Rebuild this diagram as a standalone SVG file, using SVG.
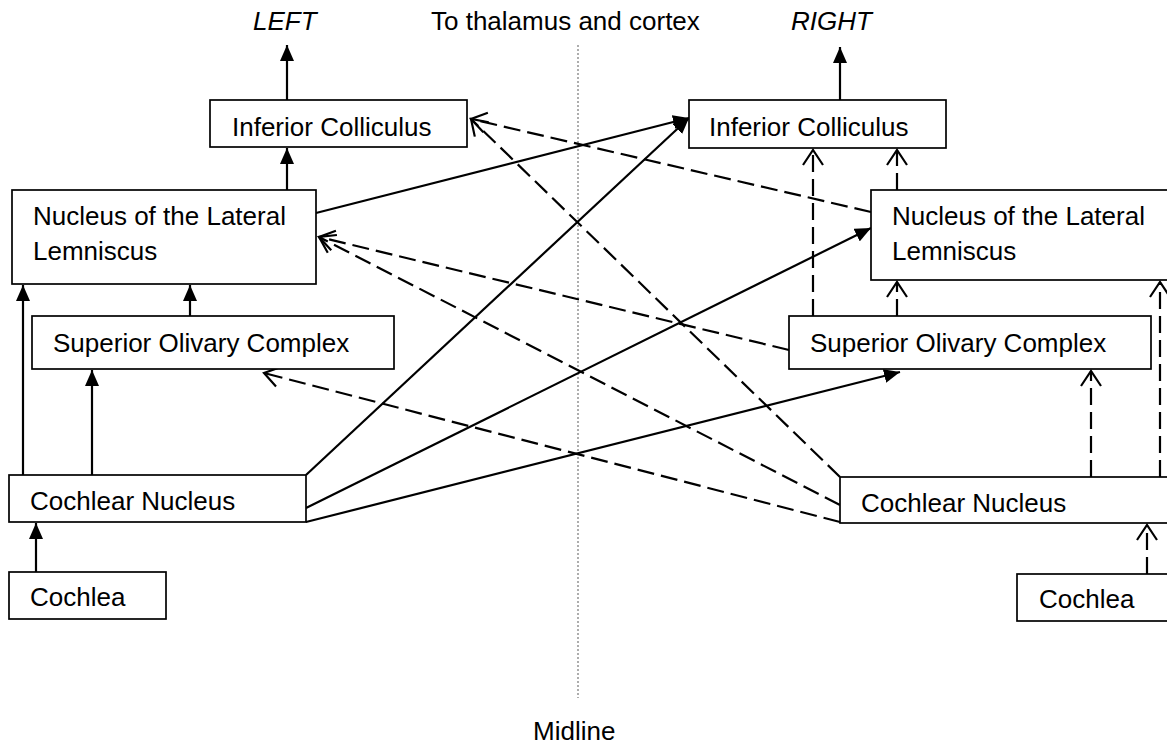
<svg xmlns="http://www.w3.org/2000/svg" width="1167" height="745" viewBox="0 0 1167 745">
<style>
  .box { fill: #ffffff; stroke: #000000; stroke-width: 1.7; }
  .lbl { font-family: "Liberation Sans", Arial, sans-serif; font-size: 26px; fill: #000000; }
  .ital { font-style: italic; }
  .solid { stroke: #000000; stroke-width: 2.2; fill: none; marker-end: url(#fill-arrow); }
  .dash { stroke: #000000; stroke-width: 2.2; fill: none; stroke-dasharray: 17 7; marker-end: url(#open-arrow); }
  .mid { stroke: #777777; stroke-width: 1.2; stroke-dasharray: 2 2; fill: none; }
</style>
<defs>
  <marker id="fill-arrow" markerUnits="userSpaceOnUse" markerWidth="16" markerHeight="14" viewBox="0 0 16 14" refX="16" refY="7" orient="auto">
    <path d="M0,0 L16,7 L0,14 Z" fill="#000000"/>
  </marker>
  <marker id="open-arrow" markerUnits="userSpaceOnUse" markerWidth="20" markerHeight="24" viewBox="-2 -2 20 24" refX="15" refY="10" orient="auto">
    <path d="M0,0 L15,10 L0,20" fill="none" stroke="#000000" stroke-width="2.2"/>
  </marker>
</defs>
<rect x="0" y="0" width="1167" height="745" fill="#ffffff"/>

<g id="labels">
  <text class="lbl ital" x="253" y="30">LEFT</text>
  <text class="lbl" x="431" y="30">To thalamus and cortex</text>
  <text class="lbl ital" x="791" y="30">RIGHT</text>
  <text class="lbl" x="533" y="740">Midline</text>
</g>

<g id="midline">
  <line class="mid" x1="578" y1="45" x2="578" y2="698"/>
</g>

<g id="connectors">
  <line class="solid" x1="287" y1="100" x2="287" y2="45"/>
  <line class="solid" x1="287" y1="190" x2="287" y2="148"/>
  <line class="solid" x1="190" y1="316" x2="190" y2="285"/>
  <line class="solid" x1="23" y1="475" x2="23" y2="285"/>
  <line class="solid" x1="92" y1="475" x2="92" y2="370"/>
  <line class="solid" x1="36" y1="572" x2="36" y2="523"/>
  <line class="solid" x1="316" y1="213" x2="689" y2="118"/>
  <line class="solid" x1="306" y1="475" x2="689" y2="118"/>
  <line class="solid" x1="306" y1="508" x2="871" y2="228"/>
  <line class="solid" x1="306" y1="522" x2="900" y2="372"/>
  <line class="solid" x1="840" y1="100" x2="840" y2="47"/>
  <line class="dash" x1="871" y1="212" x2="471" y2="119"/>
  <line class="dash" x1="840" y1="477" x2="471" y2="119"/>
  <line class="dash" x1="789" y1="350" x2="319" y2="237"/>
  <line class="dash" x1="840" y1="505" x2="319" y2="237"/>
  <line class="dash" x1="840" y1="522" x2="264" y2="373"/>
  <line class="dash" x1="813" y1="316" x2="813" y2="150"/>
  <line class="dash" x1="897" y1="190" x2="897" y2="150"/>
  <line class="dash" x1="897" y1="316" x2="897" y2="282"/>
  <line class="dash" x1="1091" y1="477" x2="1091" y2="371"/>
  <line class="dash" x1="1160" y1="477" x2="1160" y2="282"/>
  <line class="dash" x1="1147" y1="574" x2="1147" y2="525"/>
</g>

<g id="left-ic">
  <rect class="box" x="210" y="100" width="257" height="47"/>
  <text class="lbl" x="232" y="136">Inferior Colliculus</text>
</g>
<g id="right-ic">
  <rect class="box" x="689" y="100" width="257" height="48"/>
  <text class="lbl" x="709" y="136">Inferior Colliculus</text>
</g>
<g id="left-nll">
  <rect class="box" x="12" y="190" width="304" height="94"/>
  <text class="lbl" x="33" y="225">Nucleus of the Lateral</text>
  <text class="lbl" x="33" y="260">Lemniscus</text>
</g>
<g id="right-nll">
  <rect class="box" x="871" y="190" width="310" height="90"/>
  <text class="lbl" x="892" y="225">Nucleus of the Lateral</text>
  <text class="lbl" x="892" y="260">Lemniscus</text>
</g>
<g id="left-soc">
  <rect class="box" x="32" y="316" width="362" height="53"/>
  <text class="lbl" x="53" y="352">Superior Olivary Complex</text>
</g>
<g id="right-soc">
  <rect class="box" x="789" y="316" width="362" height="53"/>
  <text class="lbl" x="810" y="352">Superior Olivary Complex</text>
</g>
<g id="left-cn">
  <rect class="box" x="9" y="475" width="297" height="47"/>
  <text class="lbl" x="30" y="510">Cochlear Nucleus</text>
</g>
<g id="right-cn">
  <rect class="box" x="840" y="477" width="340" height="46"/>
  <text class="lbl" x="861" y="512">Cochlear Nucleus</text>
</g>
<g id="left-cochlea">
  <rect class="box" x="9" y="572" width="157" height="47"/>
  <text class="lbl" x="30" y="606">Cochlea</text>
</g>
<g id="right-cochlea">
  <rect class="box" x="1017" y="574" width="163" height="47"/>
  <text class="lbl" x="1039" y="608">Cochlea</text>
</g>
</svg>
